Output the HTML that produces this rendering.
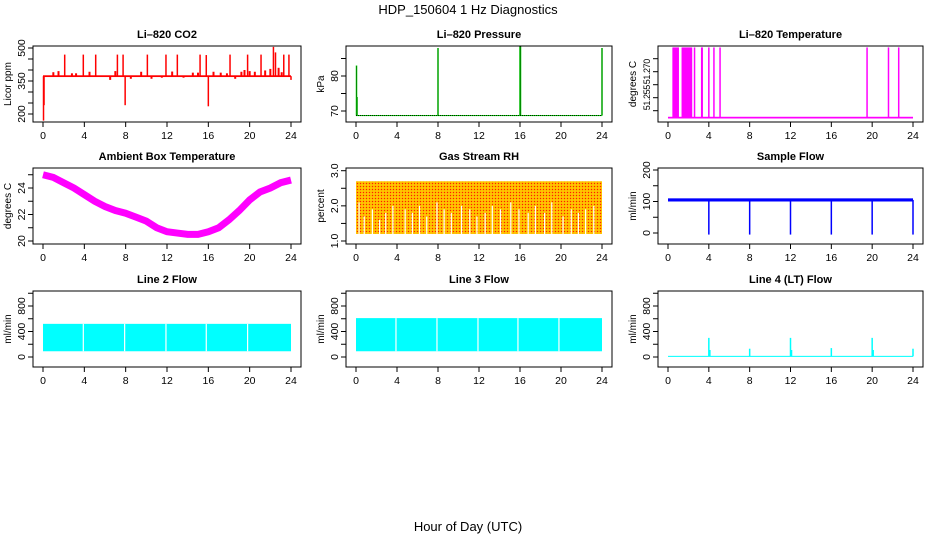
<!DOCTYPE html>
<html><head><meta charset="utf-8"><style>
body{margin:0;background:#fff}
svg{display:block;font-family:"Liberation Sans",sans-serif}
</style></head><body>
<svg id="c" width="936" height="540" viewBox="0 0 936 540" xmlns="http://www.w3.org/2000/svg">
<defs>
<pattern id="rhpat" width="3" height="3" patternUnits="userSpaceOnUse">
<rect width="3" height="3" fill="#ffb000"/><rect x="0" y="0" width="1" height="1" fill="#ff2000"/><rect x="1.5" y="1.5" width="1" height="1" fill="#ffff00"/>
</pattern>
</defs>
<text x="468" y="14" font-size="13" text-anchor="middle">HDP_150604  1 Hz Diagnostics</text>
<text x="468" y="531" font-size="13" text-anchor="middle">Hour of Day (UTC)</text>
</svg>
<script>
const xTicks=[0,4,8,12,16,20,24];
const co2Base=372;
const co2SpikeHours=[2.1,3.9,5.1,7.2,7.75,10.1,11.9,13.0,15.2,15.8,18.1,19.8,21.1,22.3,22.5,23.3,23.8];
const co2SpikeVals=[470,470,470,470,470,470,470,470,470,468,470,470,470,505,480,470,470];
const co2DipHours=[0.05,0.1,7.95,16.0,24.0];
const co2DipVals=[170,240,240,235,355];
const co2BumpHours=[1,1.5,2.8,3.2,4.5,6.5,7.0,8.5,9.5,10.5,11.5,12.5,13.6,14.5,15.0,16.5,17.2,17.8,18.6,19.2,19.5,20.0,20.5,21.5,22.0,22.8,23.1];
const co2BumpVals=[390,395,385,385,392,355,395,360,392,360,365,393,365,388,388,392,388,385,360,392,400,395,392,398,405,410,390];
const presBase=68.7;
const presSpikeHours=[0.05,0.1,8.0,16.0,16.05,24.0];
const presSpikeVals=[83,74,88,88.6,88.6,88];
const tempBase=51.2435;
const tempTop=51.284;
const tempSpikeHours=[0.5,0.6,0.7,0.8,0.9,1.0,1.4,1.5,1.6,1.7,1.8,1.9,2.0,2.1,2.2,2.3,2.6,3.3,3.35,4.0,4.5,5.1,19.5,21.6,22.6];
const ambHours=[0,1,2,3,4,5,6,7,8,9,10,11,12,13,14,15,16,17,18,19,20,21,22,23,24];
const ambVals=[25.0,24.8,24.4,24.0,23.5,23.0,22.6,22.3,22.1,21.8,21.5,21.0,20.7,20.6,20.5,20.5,20.7,21.0,21.6,22.3,23.1,23.7,24.0,24.4,24.6];
const rhTop=2.7;
const rhLow=1.2;
const rhGapHours=[0.3,0.8,1.6,2.3,2.9,3.6,4.8,5.5,6.2,6.9,7.9,8.6,9.3,10.3,11.1,11.8,12.6,13.3,14.1,15.1,15.9,16.8,17.5,18.4,19.1,20.2,21.0,21.7,22.4,23.2];
const rhGapTops=[2.1,1.7,1.9,1.6,1.8,2.0,1.9,1.8,2.0,1.7,2.1,1.9,1.8,2.0,1.9,1.7,1.8,2.0,1.9,2.1,1.9,1.8,2.0,1.8,2.1,1.7,1.9,1.8,1.9,2.0];
const sfBase=105;
const sfDipHours=[4,8,12,16,20,24];
const sfDipVals=[-5,-5,-5,-5,-5,-5];
const l2Low=90, l2High=520;
const l2GapHours=[3.9,7.9,11.9,15.8,19.8];
const l3Low=90, l3High=610;
const l3GapHours=[3.9,7.9,11.9,15.8,19.8];
const l4Base=10;
const l4SpikeHours=[4.0,4.1,8.0,12.0,12.1,16.0,20.0,20.1,24.0];
const l4SpikeVals=[300,110,130,300,110,140,300,110,130];

const svg=document.getElementById('c');
const NS='http://www.w3.org/2000/svg';
function mk(tag,attrs,parent){const e=document.createElementNS(NS,tag);for(const k in attrs)e.setAttribute(k,attrs[k]);(parent||svg).appendChild(e);return e;}
const colL=[33,346,658], colW=[268,266,265];
const rowT=[46,168,291], rowB=[122,244,367];
function panel(ci,ri,name,title,ylab,v0,p0,v1,p1,yTicks,yLabels,lblSize){
  const g=mk('g',{});
  
  
  const L=colL[ci],W=colW[ci],T=rowT[ri],B=rowB[ri];
  const x=h=>L+10+h*(W-20)/24;
  const y=v=>p0+(v-v0)*(p1-p0)/(v1-v0);
  const t=mk('text',{x:L+W/2,y:T-8,'font-size':11,'font-weight':'bold','text-anchor':'middle'},g);t.textContent=title;
  
  const yl=mk('text',{x:0,y:0,'font-size':10,'text-anchor':'middle',transform:`translate(${L-22},${(T+B)/2}) rotate(-90)`},g);yl.textContent=ylab;
  
  const xa=mk('g',{},g);
  xTicks.forEach(h=>{mk('line',{x1:x(h),x2:x(h),y1:B,y2:B+5,stroke:'#000'},xa);const tt=mk('text',{x:x(h),y:B+17,'font-size':10.5,'text-anchor':'middle'},xa);tt.textContent=h;});
  mk('line',{x1:x(0),x2:x(24),y1:B,y2:B,stroke:'#000'},xa);
  const ya=mk('g',{},g);
  yTicks.forEach(v=>mk('line',{x1:L-5,x2:L,y1:y(v),y2:y(v),stroke:'#000'},ya));
  yLabels.forEach(v=>{const tt=mk('text',{x:0,y:0,'font-size':lblSize||10.5,'text-anchor':'middle','letter-spacing':lblSize?'-0.4':'0',transform:`translate(${L-8},${y(parseFloat(v))}) rotate(-90)`},ya);tt.textContent=v;});
  const plot=mk('g',{},g);
  setTimeout(()=>{const bx=mk('rect',{x:L,y:T,width:W,height:B-T,fill:'none',stroke:'#000'},g);},0);
  return {x,y,plot};
}
function vline(p,h,a,b,col,w){const l=mk('line',{x1:p.x(h),x2:p.x(h),y1:p.y(a),y2:p.y(b),stroke:col,'stroke-width':w||1.2},p.plot);return l;}
function hband(p,a,b,col,h0,h1){const r=mk('rect',{x:p.x(h0),y:p.y(b),width:p.x(h1)-p.x(h0),height:Math.max(1,p.y(a)-p.y(b)),fill:col},p.plot);return r;}

let p=panel(0,0,'co2','Li\u2013820 CO2','Licor ppm',200,114,500,48,[200,250,300,350,400,450,500],['200','350','500']);
co2BumpHours.forEach((h,i)=>vline(p,h,co2Base,co2BumpVals[i],'#f00',2));
co2SpikeHours.forEach((h,i)=>vline(p,h,co2Base,co2SpikeVals[i],'#f00',1.5));
co2DipHours.forEach((h,i)=>vline(p,h,co2Base,co2DipVals[i],'#f00',1.5));
hband(p,co2Base-4,co2Base+4,'#f00',0,24);

p=panel(1,0,'pressure','Li\u2013820 Pressure','kPa',70,111,80,76,[70,75,80,85],['70','80']);
presSpikeHours.forEach((h,i)=>{vline(p,h,presBase,presSpikeVals[i],'#0c0',1.5);vline(p,h,presBase,presSpikeVals[i],'#000',0.6).setAttribute('stroke-dasharray','1 1');});
hband(p,presBase-0.15,presBase+0.15,'#0d0',0,24);
mk('line',{x1:p.x(0),x2:p.x(24),y1:p.y(presBase),y2:p.y(presBase),stroke:'#000','stroke-width':0.8,'stroke-dasharray':'1 1'},p.plot);

p=panel(2,0,'li820-temperature','Li\u2013820 Temperature','degrees C',51.270,71.7,51.255,97.7,[51.2475,51.255,51.2625,51.270,51.2775],['51.255','51.270'],9);
tempSpikeHours.forEach(h=>vline(p,h,tempBase,tempTop,'#f0f',1.5));
hband(p,tempBase-0.0005,tempBase+0.0005,'#f0f',0,24);

p=panel(0,1,'ambient-temperature','Ambient Box Temperature','degrees C',20,241,24,188,[20,21,22,23,24,25],['20','22','24']);
const ap=mk('polyline',{points:ambHours.map((h,i)=>p.x(h)+','+p.y(ambVals[i])).join(' '),fill:'none',stroke:'#f0f','stroke-width':7},p.plot);



p=panel(1,1,'gas-stream-rh','Gas Stream RH','percent',1,241,3,170.7,[1,1.5,2,2.5,3],['1.0','2.0','3.0']);
hband(p,rhLow,rhTop,'url(#rhpat)',0,24);
rhGapHours.forEach((h,i)=>vline(p,h,1.0,rhGapTops[i],'#fff',1.2));

p=panel(2,1,'sample-flow','Sample Flow','ml/min',0,233,200,170,[0,50,100,150,200],['0','100','200']);
hband(p,sfBase-5,sfBase+5,'#00f',0,24);
sfDipHours.forEach((h,i)=>vline(p,h,sfBase,sfDipVals[i],'#00f',1.5));

p=panel(0,2,'line2-flow','Line 2 Flow','ml/min',0,357,800,306,[0,200,400,600,800,1000],['0','400','800']);
hband(p,l2Low,l2High,'#0ff',0,24);
l2GapHours.forEach(h=>vline(p,h,l2Low,l2High,'#fff',1.2));

p=panel(1,2,'line3-flow','Line 3 Flow','ml/min',0,357,800,306,[0,200,400,600,800,1000],['0','400','800']);
hband(p,l3Low,l3High,'#0ff',0,24);
l3GapHours.forEach(h=>vline(p,h,l3Low,l3High,'#fff',1.2));

p=panel(2,2,'line4-flow','Line 4 (LT) Flow','ml/min',0,357,800,306,[0,200,400,600,800,1000],['0','400','800']);
hband(p,l4Base-8,l4Base+8,'#0ff',0,24);
l4SpikeHours.forEach((h,i)=>vline(p,h,l4Base,l4SpikeVals[i],'#0ff',1.5));
</script>
</body></html>
